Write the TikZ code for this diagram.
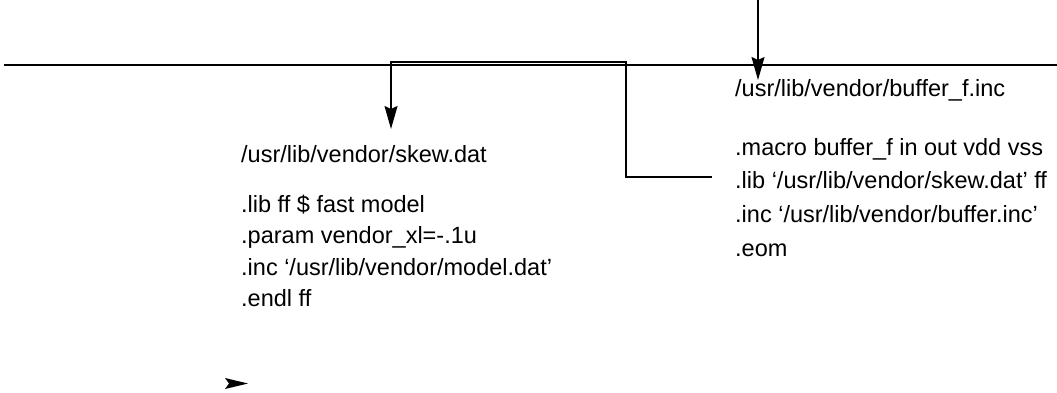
\documentclass[tikz,border=0pt]{standalone}
\usepackage{fontspec}
\setmainfont{Liberation Sans}
\usetikzlibrary{arrows.meta}
\begin{document}
\begin{tikzpicture}[x=1pt,y=-1pt,
  txt/.style={anchor=base west,inner sep=0pt,font=\fontsize{23.5}{26}\selectfont},
  rule/.style={line width=2pt},
  link/.style={line width=1.4pt},
  tip/.style={-{Stealth[length=23pt,width=13pt,inset=3pt]}}]
\useasboundingbox (0,0) rectangle (1057,393);
% main horizontal rule
\coordinate (ruleL) at (4,65);
\coordinate (ruleR) at (1057,65);
\draw[rule] (ruleL) -- (ruleR);
% left file: skew.dat
\node[txt] (skewT) at (241,162) {/usr/lib/vendor/skew.dat};
\node[txt] (skew1) at (241,212) {.lib ff \$ fast model};
\node[txt] (skew2) at (241,243.5) {.param vendor\_xl=-.1u};
\node[txt] (skew3) at (241,275) {.inc ‘/usr/lib/vendor/model.dat’};
\node[txt] (skew4) at (241,306.5) {.endl ff};
% right file: buffer_f.inc
\node[txt] (bufT) at (735,97) {/usr/lib/vendor/buffer\_f.inc};
\node[txt] (buf1) at (735,155) {.macro buffer\_f in out vdd vss};
\node[txt] (buf2) at (735,188.5) {.lib ‘/usr/lib/vendor/skew.dat’ ff};
\node[txt] (buf3) at (735,222) {.inc ‘/usr/lib/vendor/buffer.inc’};
\node[txt] (buf4) at (735,256) {.eom};
% incoming arrow
\coordinate (inTop) at (758,0);
\coordinate (inTip) at (758,80);
\draw[link,tip] (inTop) -- (inTip);
% .lib reference back to skew.dat
\coordinate (libEnd) at (712,177);
\coordinate (skewTip) at (391,129);
\draw[link,tip] (libEnd) -- (626,177) -- (626,62) -- (391,62) -- (skewTip);
% lone arrowhead
\coordinate (loneA) at (225,383.5);
\fill (loneA) ++(0,-5.5) -- (248,383.5) -- (225,389) -- (229,383.5) -- cycle;
\end{tikzpicture}
\end{document}
